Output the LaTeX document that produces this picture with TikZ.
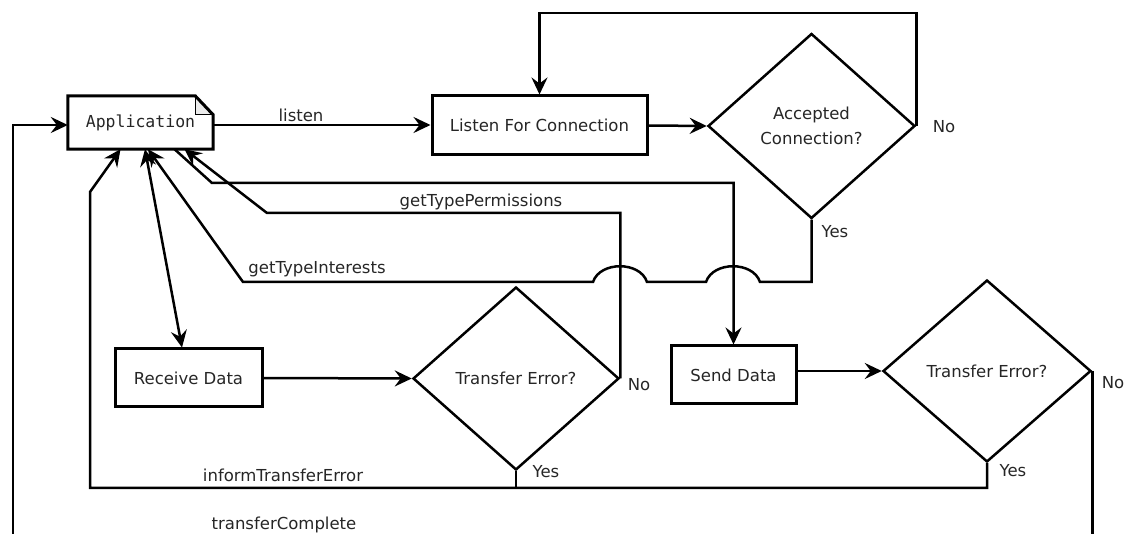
\documentclass[tikz,border=0pt]{standalone}
\usepackage{fontspec}
\setmainfont{DejaVu Sans}
\setmonofont{DejaVu Sans Mono}
\usepackage{tikz}
\usetikzlibrary{arrows.meta}
\usetikzlibrary{shapes.geometric}
\usetikzlibrary{calc}
\tikzset{>={Stealth[length=17pt,width=16pt,inset=6pt]}}

\begin{document}
\begin{tikzpicture}[
        x=1pt, y=-1pt,
        font=\fontsize{16.5}{25}\selectfont,
        flow/.style={line width=2.5pt, ->},
        link/.style={line width=2.5pt},
        notebox/.style={inner sep=0pt, font=\fontsize{16.5}{20}\selectfont\ttfamily, text=black!85},
        process/.style={draw, line width=3pt, inner sep=0pt, text=black!85},
        decision/.style={draw, diamond, line width=2.5pt, inner sep=0pt, align=center, text=black!85},
        tag/.style={inner sep=0pt, text=black!85}
    ]

    %=== Frame ===%
    \useasboundingbox (0,0) rectangle (1128,534);
    \clip (0,0) rectangle (1128,534);

    %=== Nodes ===%
    \node[notebox, minimum width=145pt, minimum height=53pt] (app) at (140.5,122.5) {Application};
    \node[process, minimum width=215pt, minimum height=59pt] (listen) at (539.5,125.5) {Listen For Connection};
    \node[decision, minimum width=207pt, minimum height=185pt] (accept) at (811.5,126) {Accepted\\Connection?};
    \node[process, minimum width=147pt, minimum height=58pt] (recv) at (188.5,378) {Receive Data};
    \node[decision, minimum width=206pt, minimum height=183pt] (errRecv) at (516,378.5) {Transfer Error?};
    \node[process, minimum width=125pt, minimum height=58pt] (send) at (733.5,375) {Send Data};
    \node[decision, minimum width=208pt, minimum height=182pt] (errSend) at (987,371) {Transfer Error?};

    % note outline with folded corner
    \draw[line width=1pt, fill=black!8] ([xshift=-18pt]app.north east) -- ([xshift=-18pt, yshift=-19pt]app.north east) -- ([yshift=-19pt]app.north east);
    \draw[line width=3pt] (app.north west) -- ([xshift=-18pt]app.north east) -- ([yshift=-19pt]app.north east) -- (app.south east) -- (app.south west) -- cycle;

    %=== Bend points ===%
    \coordinate (listenRow) at (0,125);
    \coordinate (loopTop) at (0,13);
    \coordinate (permBend) at (267,213);
    \coordinate (sendBend) at (212,183);
    \coordinate (intBend) at (243,282);
    \coordinate (errLine) at (90,488);
    \coordinate (errBend) at (90,192);
    \coordinate (doneLine) at (13,545);

    %=== Connectors ===%
    \draw[flow] (app.east |- listenRow) -- (listen.west |- listenRow);
    \draw[flow] (listen.east) -- (accept.west);
    \draw[flow] (accept.east) -- (accept.east |- loopTop) -| (listen.north);
    \draw[flow] (accept.south) |- (760,282)
        .. controls (753,261) and (713,261) .. (706,282) -- (647,282)
        .. controls (640,261) and (600,261) .. (593,282) -- (intBend) -- ([xshift=7.5pt]app.south);
    \draw[link, <->] ([xshift=4.5pt]app.south) -- ([xshift=-6.5pt]recv.north);
    \draw[flow] (recv.east) -- (errRecv.west);
    \draw[flow] (errRecv.east) |- (permBend) -- ([xshift=44pt]app.south);
    \draw[flow] ([xshift=34pt]app.south) -- (sendBend) -| (send.north);
    \draw[flow] ([yshift=4pt]send.east) -- (errSend.west);
    \draw[link] (errRecv.south) -- (errRecv.south |- errLine);
    \draw[flow] (errSend.south) |- (errLine) -- (errBend) -- ([xshift=-20pt]app.south);
    \draw[flow] (errSend.east) |- (doneLine) |- (app.west |- listenRow);

    %=== Labels ===%
    \node[tag] (lblListen) at (301,115) {listen};
    \node[tag] (lblAcceptNo) at (944,127) {No};
    \node[tag] (lblAcceptYes) at (835,232) {Yes};
    \node[tag] (lblPerm) at (481,202) {getTypePermissions};
    \node[tag] (lblInterest) at (317,269) {getTypeInterests};
    \node[tag] (lblRecvNo) at (639,385) {No};
    \node[tag] (lblRecvYes) at (546,472) {Yes};
    \node[tag] (lblSendNo) at (1113,383) {No};
    \node[tag] (lblSendYes) at (1013,471) {Yes};
    \node[tag] (lblError) at (283,475) {informTransferError};
    \node[tag] (lblDone) at (284,525) {transferComplete};
\end{tikzpicture}
\end{document}
